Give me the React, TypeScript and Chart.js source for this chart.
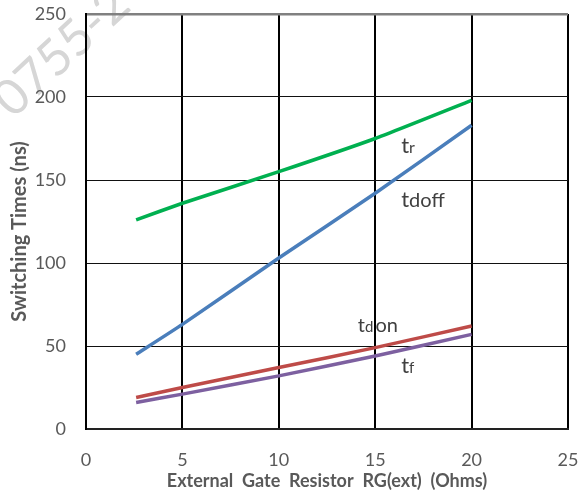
import React, { useEffect, useRef } from "react";
import { Chart, registerables } from "chart.js";

Chart.register(...registerables);

const resistance = [2.6, 5, 10, 15, 20];
const trValues = [126, 136, 155, 175, 198];
const tdoffValues = [45, 63, 103, 142, 183];
const tdonValues = [19, 25, 37, 49, 62];
const tfValues = [16, 21, 32, 44, 57];
const xTicks = [0, 5, 10, 15, 20, 25];
const yTicks = [0, 50, 100, 150, 200, 250];
const yTitle = "Switching Times (ns)";
const xTitle = "External  Gate  Resistor  RG(ext)  (Ohms)";

const FONT = "Lato, 'Open Sans', sans-serif";

type Label = { parts: { text: string; size: number }[]; x: number; y: number };
const curveLabels: Label[] = [
  { parts: [{ text: "t", size: 22 }, { text: "r", size: 16 }], x: 16.35, y: 166 },
  { parts: [{ text: "t", size: 22 }, { text: "doff", size: 20 }], x: 16.35, y: 133.5 },
  { parts: [{ text: "t", size: 20 }, { text: "d", size: 15 }, { text: "on", size: 20 }], x: 14.1, y: 58.3 },
  { parts: [{ text: "t", size: 22 }, { text: "f", size: 15 }], x: 16.35, y: 34 },
];

const extrasPlugin = {
  id: "extras",
  beforeDraw(chart: any) {
    const ctx = chart.ctx;
    ctx.save();
    ctx.translate(62, 52);
    ctx.rotate(-Math.PI / 4.2);
    ctx.font = `50px ${FONT}`;
    ctx.fillStyle = "#d6d6d6";
    ctx.textAlign = "center";
    ctx.textBaseline = "middle";
    ctx.fillText("0755-2", 0, 0);
    ctx.restore();
  },
  afterDatasetsDraw(chart: any) {
    const ctx = chart.ctx;
    const xs = chart.scales.x;
    const ys = chart.scales.y;
    const area = chart.chartArea;
    ctx.save();
    ctx.fillStyle = "#404040";
    ctx.textBaseline = "alphabetic";
    ctx.textAlign = "left";
    for (const l of curveLabels) {
      let px = xs.getPixelForValue(l.x);
      const py = ys.getPixelForValue(l.y);
      for (const p of l.parts) {
        ctx.font = `${p.size}px ${FONT}`;
        ctx.fillText(p.text, px, py);
        px += ctx.measureText(p.text).width + (p.text === "d" ? 2 : 0);
      }
    }
    // y axis title
    ctx.translate(20, (area.top + area.bottom) / 2 + 10);
    ctx.rotate(-Math.PI / 2);
    ctx.font = `bold 20px ${FONT}`;
    ctx.fillStyle = "#595959";
    ctx.textAlign = "center";
    ctx.textBaseline = "middle";
    ctx.fillText(yTitle, 0, 0);
    ctx.restore();
  },
};

export default function App() {
  const ref = useRef<HTMLCanvasElement | null>(null);
  useEffect(() => {
    if (!ref.current) return;
    const mk = (label: string, data: number[], color: string) => ({
      label,
      data: resistance.map((x, i) => ({ x, y: data[i] })),
      borderColor: color,
      backgroundColor: color,
      borderWidth: 3.5,
      pointRadius: 0,
      tension: 0.15,
      fill: false,
    });
    const chart = new Chart(ref.current, {
      type: "line",
      data: {
        datasets: [
          mk("tr", trValues, "#00B050"),
          mk("tdoff", tdoffValues, "#4A7EBB"),
          mk("tdon", tdonValues, "#BE4B48"),
          mk("tf", tfValues, "#7D60A0"),
        ],
      },
      options: {
        animation: false,
        responsive: true,
        maintainAspectRatio: false,
        layout: { padding: { top: 14, right: 17, left: 0, bottom: 0 } },
        plugins: { legend: { display: false }, tooltip: { enabled: false } },
        scales: {
          x: {
            type: "linear",
            min: 0,
            max: 25,
            afterBuildTicks: (s: any) => {
              s.ticks = xTicks.map((v) => ({ value: v }));
            },
            afterFit: (s: any) => {
              s.height = 64;
              s.paddingLeft = 0;
              s.paddingRight = 0;
            },
            ticks: {
              font: { family: FONT, size: 18 },
              color: "#595959",
              padding: 20,
            },
            grid: { color: "#000000", lineWidth: 2, drawTicks: false },
            border: { display: true, color: "#222222", width: 2 },
            title: {
              display: true,
              text: xTitle,
              font: { family: FONT, size: 18, weight: "bold" },
              color: "#595959",
              padding: { top: 0, bottom: 1 },
            },
          },
          y: {
            min: 0,
            max: 250,
            afterBuildTicks: (s: any) => {
              s.ticks = yTicks.map((v) => ({ value: v }));
            },
            afterFit: (s: any) => {
              s.width = 86;
              s.paddingTop = 0;
              s.paddingBottom = 0;
            },
            ticks: {
              font: { family: FONT, size: 18 },
              color: "#595959",
              padding: 20,
            },
            grid: {
              drawTicks: false,
              color: (c: any) => (c.tick && c.tick.value === 250 ? "#808080" : "#111111"),
              lineWidth: (c: any) => (c.tick && c.tick.value === 250 ? 2.5 : 1),
            },
            border: { display: true, color: "#000000", width: 2 },
          },
        },
      },
      plugins: [extrasPlugin],
    });
    return () => chart.destroy();
  }, []);
  return (
    <div style={{ position: "fixed", left: 0, top: 0, width: 585, height: 493, background: "#fff" }}>
      <canvas ref={ref} />
    </div>
  );
}
